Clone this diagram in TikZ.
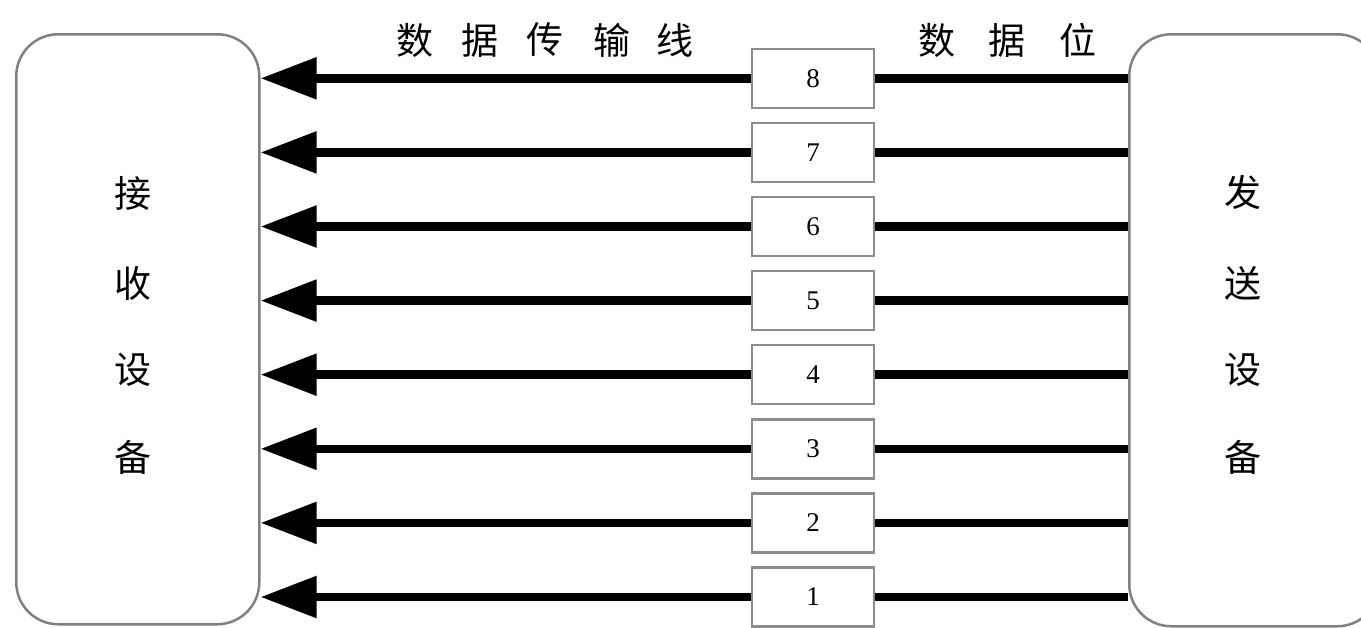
\documentclass[tikz,border=0pt]{standalone}
\usepackage{fontspec}
\setmainfont{Liberation Serif}
\newfontfamily\cjk{Noto Sans CJK SC}
\usetikzlibrary{arrows.meta}
\begin{document}
\begin{tikzpicture}[x=1pt,y=-1pt,
  devbox/.style={draw=black!50,line width=2.5pt,rounded corners=42pt,fill=white},
  bitbox/.style={draw=black!45,line width=2.5pt,fill=white,minimum width=122pt,minimum height=59pt,inner sep=0pt,font=\fontsize{27}{27}\selectfont},
  wire/.style={line width=8.5pt,black},
  arr/.style={wire,-{Triangle[length=56pt,width=40pt]}},
  cjklab/.style={font=\cjk\fontsize{37}{37}\selectfont,inner sep=0pt}]
\useasboundingbox (0,0) rectangle (1361,627);
\clip (0,0) rectangle (1361,627);
% devices
\node[devbox,minimum width=243pt,minimum height=590pt,anchor=north west] (recv) at (15,33) {};
\node[devbox,minimum width=250pt,minimum height=592pt,anchor=north west] (send) at (1128,33) {};
% device labels
\foreach \c/\y [count=\i] in {接/193,收/283,设/370,备/457}
  \node[cjklab] (r\i) at (133,\y) {\c};
\foreach \c/\y [count=\i] in {发/192,送/283,设/370,备/457}
  \node[cjklab] (s\i) at (1243,\y) {\c};
% top labels
\foreach \c/\x [count=\i] in {数/415,据/480,传/545,输/612,线/675}
  \node[cjklab] (a\i) at (\x,40) {\c};
\foreach \c/\x [count=\i] in {数/937,据/1007,位/1078}
  \node[cjklab] (b\i) at (\x,40) {\c};
% bit boxes and wires
\foreach \k in {1,...,8}{
  \pgfmathsetmacro{\yy}{597-74.1*(\k-1)}
  \node[bitbox] (bit\k) at (813,\yy) {\k};
  \draw[arr] (bit\k.west) -- (recv.east |- bit\k.west);
  \draw[wire] (send.west |- bit\k.east) -- (bit\k.east);
}
\end{tikzpicture}
\end{document}
